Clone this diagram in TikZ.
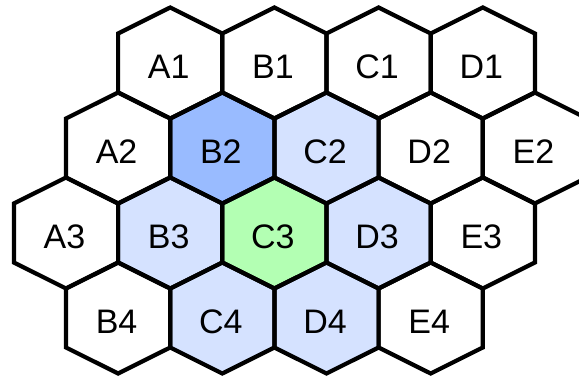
\documentclass[tikz,border=0pt]{standalone}
\usepackage{fontspec}
\setmainfont{Liberation Sans}
\definecolor{hexdark}{HTML}{99BBFF}
\definecolor{hexlight}{HTML}{D5E2FF}
\definecolor{hexgreen}{HTML}{B3FFB3}
\newcommand{\hexcell}[5]{%
  \fill[#4] (#2,#3) ++(0,-55.5) -- ++(52.1,26) -- ++(0,59) -- ++(-52.1,26) -- ++(-52.1,-26) -- ++(0,-59) -- cycle;
  \node[hexlabel] (#1) at (#2-1.5,#3+4) {#5};
}
\newcommand{\hexedge}[2]{%
  \draw[hexline] (#1,#2) ++(0,-55.5) -- ++(52.1,26) -- ++(0,59) -- ++(-52.1,26) -- ++(-52.1,-26) -- ++(0,-59) -- cycle;
}
\tikzset{
  hexline/.style={line width=4.2pt, line join=miter, black},
  hexlabel/.style={inner sep=0pt, font=\fontsize{34}{36}\selectfont, text=black}
}
\begin{document}
\begin{tikzpicture}[x=1pt,y=-1pt]
\useasboundingbox (0,0) rectangle (579,377);
\clip (0,0) rectangle (579,377);
% row 1
\hexcell{A1}{170.2}{63}{white}{A1}
\hexcell{B1}{274.4}{63}{white}{B1}
\hexcell{C1}{378.6}{63}{white}{C1}
\hexcell{D1}{482.8}{63}{white}{D1}
% row 2
\hexcell{A2}{118.1}{148}{white}{A2}
\hexcell{B2}{222.3}{148}{hexdark}{B2}
\hexcell{C2}{326.5}{148}{hexlight}{C2}
\hexcell{D2}{430.7}{148}{white}{D2}
\hexcell{E2}{534.9}{148}{white}{E2}
% row 3
\hexcell{A3}{66}{233}{white}{A3}
\hexcell{B3}{170.2}{233}{hexlight}{B3}
\hexcell{C3}{274.4}{233}{hexgreen}{C3}
\hexcell{D3}{378.6}{233}{hexlight}{D3}
\hexcell{E3}{482.8}{233}{white}{E3}
% row 4
\hexcell{B4}{118.1}{318}{white}{B4}
\hexcell{C4}{222.3}{318}{hexlight}{C4}
\hexcell{D4}{326.5}{318}{hexlight}{D4}
\hexcell{E4}{430.7}{318}{white}{E4}
% outlines
\hexedge{170.2}{63}\hexedge{274.4}{63}\hexedge{378.6}{63}\hexedge{482.8}{63}
\hexedge{118.1}{148}\hexedge{222.3}{148}\hexedge{326.5}{148}\hexedge{430.7}{148}\hexedge{534.9}{148}
\hexedge{66}{233}\hexedge{170.2}{233}\hexedge{274.4}{233}\hexedge{378.6}{233}\hexedge{482.8}{233}
\hexedge{118.1}{318}\hexedge{222.3}{318}\hexedge{326.5}{318}\hexedge{430.7}{318}
\end{tikzpicture}
\end{document}
